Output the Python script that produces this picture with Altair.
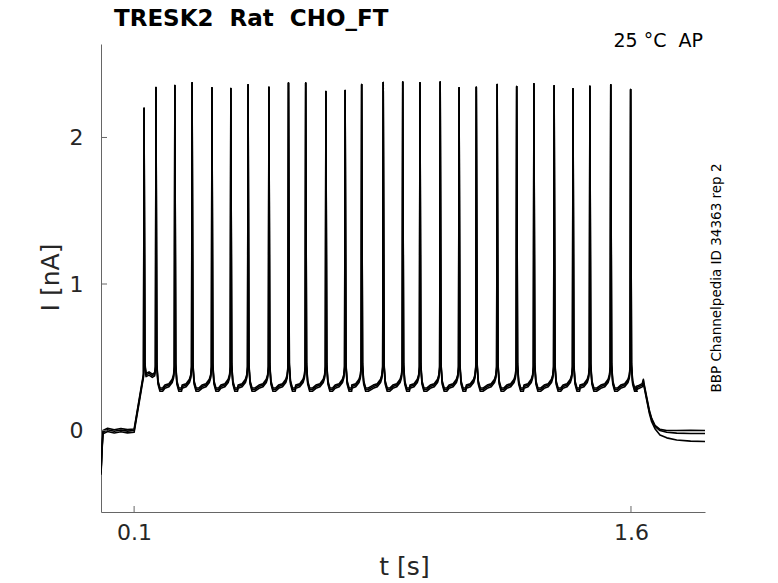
import altair as alt
import pandas as pd

# ---------------- values ----------------
# spike (AP-clamp peak) times [s] and peak currents [nA]
spike_t = [0.130, 0.166, 0.223, 0.275, 0.335, 0.392, 0.444, 0.507, 0.566, 0.618,
           0.679, 0.737, 0.787, 0.852, 0.911, 0.963, 1.024, 1.081, 1.133, 1.196,
           1.255, 1.307, 1.368, 1.425, 1.476, 1.539, 1.599]
spike_peak = [2.20, 2.34, 2.355, 2.373, 2.339, 2.334, 2.360, 2.343, 2.371, 2.371,
              2.314, 2.321, 2.362, 2.375, 2.378, 2.373, 2.378, 2.339, 2.343, 2.362,
              2.348, 2.367, 2.353, 2.332, 2.350, 2.360, 2.327]

# holding segment before the train (capacitive dip at t=0, then baseline)
hold_t = [0.0, 0.003, 0.006, 0.02, 0.04, 0.06, 0.08, 0.100]
hold_I = [-0.29, -0.13, -0.01, 0.005, -0.005, 0.004, -0.004, 0.0]

# ramp onto the first spike
ramp_t = [0.1285]
ramp_I = [0.38]

# plateau between first and second spike
gap1_t = [0.1325, 0.136, 0.145, 0.155, 0.162, 0.1645]
gap1_I = [0.45, 0.38, 0.39, 0.375, 0.385, 0.43]

# shape of the inter-spike trough: offsets after a spike / before the next one
post_dt = [0.0025, 0.006, 0.012, 0.020]
post_I = [0.45, 0.33, 0.28, 0.28]
pre_dt = [0.030, 0.018, 0.008, 0.004, 0.0015]
pre_I = [0.30, 0.31, 0.34, 0.37, 0.43]

# plateau after the last spike
end_t = [1.615, 1.625, 1.634, 1.6375]
end_I = [0.29, 0.30, 0.31, 0.34]

# return to holding, one list per sweep
tail_t = [1.6386, 1.6474, 1.6553, 1.6625, 1.6725, 1.6876, 1.708, 1.738, 1.78, 1.8235]
tail_I = [
    [0.33, 0.23, 0.14, 0.083, 0.035, 0.008, 0.0, 0.0, 0.002, 0.0],
    [0.32, 0.22, 0.13, 0.075, 0.028, 0.0, -0.012, -0.018, -0.02, -0.02],
    [0.31, 0.21, 0.12, 0.06, 0.012, -0.03, -0.05, -0.065, -0.072, -0.075],
]

sweeps = ["sweep 1", "sweep 2", "sweep 3"]
sweep_offset = [0.01, 0.0, -0.012]

x_ticks = [0.1, 1.6]
y_ticks = [0, 1, 2]

title_text = "TRESK2\u00a0 Rat\u00a0 CHO_FT"
cond_text = "25 °C\u00a0 AP"
side_text = "BBP Channelpedia ID 34363 rep 2"

# ---------------- build the table ----------------
rows = []
for s, name in enumerate(sweeps):
    off = sweep_offset[s]
    pts = []
    pts += [(t, v + off) for t, v in zip(hold_t, hold_I)]
    pts += [(t, v + off) for t, v in zip(ramp_t, ramp_I)]
    for i, (ts, pk) in enumerate(zip(spike_t, spike_peak)):
        if i >= 2:
            pts += [(ts - d, v + off) for d, v in zip(pre_dt, pre_I)]
        pts.append((ts, pk))
        if i == 0:
            pts += [(t, v + off) for t, v in zip(gap1_t, gap1_I)]
        else:
            pts += [(ts + d, v + off) for d, v in zip(post_dt, post_I)]
    pts += [(t, v + off) for t, v in zip(end_t, end_I)]
    pts += list(zip(tail_t, tail_I[s]))
    for k, (t, v) in enumerate(pts):
        rows.append({"sweep": name, "t": t, "I": v, "k": k})
df = pd.DataFrame(rows)

W, H = 604, 468
x_scale = alt.Scale(domain=[0, 1.8235], nice=False, zero=False)
y_scale = alt.Scale(domain=[-0.556, 2.638], nice=False, zero=False)

lines = alt.Chart(df).mark_line(color="black", strokeWidth=1.6, strokeJoin="round", clip=True).encode(
    x=alt.X("t:Q", scale=x_scale,
            axis=alt.Axis(values=x_ticks, format=".1f", title="t [s]", ticks=False,
                          labelPadding=10, titleX=W / 2 + 1, titleY=62,
                          titleBaseline="alphabetic", titleAlign="center")),
    y=alt.Y("I:Q", scale=y_scale,
            axis=alt.Axis(values=y_ticks, format="d", title="I [nA]", ticks=False,
                          labelPadding=18, titleX=-43, titleY=H / 2 - 1,
                          titleAngle=270, titleBaseline="alphabetic", titleAlign="center")),
    detail="sweep:N",
    order="k:Q",
)

xt = alt.Chart(pd.DataFrame({"t": x_ticks})).mark_rule(color="#666666", strokeWidth=1).encode(
    x=alt.X("t:Q", scale=x_scale), y=alt.value(H), y2=alt.value(H - 6))
yt = alt.Chart(pd.DataFrame({"I": y_ticks})).mark_rule(color="#666666", strokeWidth=1).encode(
    y=alt.Y("I:Q", scale=y_scale), x=alt.value(0), x2=alt.value(6))

title = alt.Chart(pd.DataFrame({"s": [title_text]})).mark_text(
    font="DejaVu Sans", fontSize=23, fontWeight="bold", align="left", baseline="alphabetic",
    color="black").encode(text="s:N", x=alt.value(13), y=alt.value(-18))
cond = alt.Chart(pd.DataFrame({"s": [cond_text]})).mark_text(
    font="DejaVu Sans", fontSize=19, align="right", baseline="alphabetic",
    color="black").encode(text="s:N", x=alt.value(602), y=alt.value(2.5))
side = alt.Chart(pd.DataFrame({"s": [side_text]})).mark_text(
    font="DejaVu Sans", fontSize=13.5, align="center", baseline="middle", angle=270,
    color="black").encode(text="s:N", x=alt.value(616), y=alt.value(234))

chart = alt.layer(lines, xt, yt, title, cond, side).properties(
    width=W, height=H,
    autosize=alt.AutoSizeParams(type="none"),
    padding={"left": 93, "top": 36, "right": 60, "bottom": 76},
).configure_view(stroke=None).configure_axis(
    domainColor="#666666", domainWidth=1, grid=False,
    labelFont="DejaVu Sans", labelFontSize=22, labelColor="#262626",
    titleFont="DejaVu Sans", titleFontSize=25, titleFontWeight="normal", titleColor="#262626",
)

chart.save("out.html", embed_options={"renderer": "svg", "actions": False})
